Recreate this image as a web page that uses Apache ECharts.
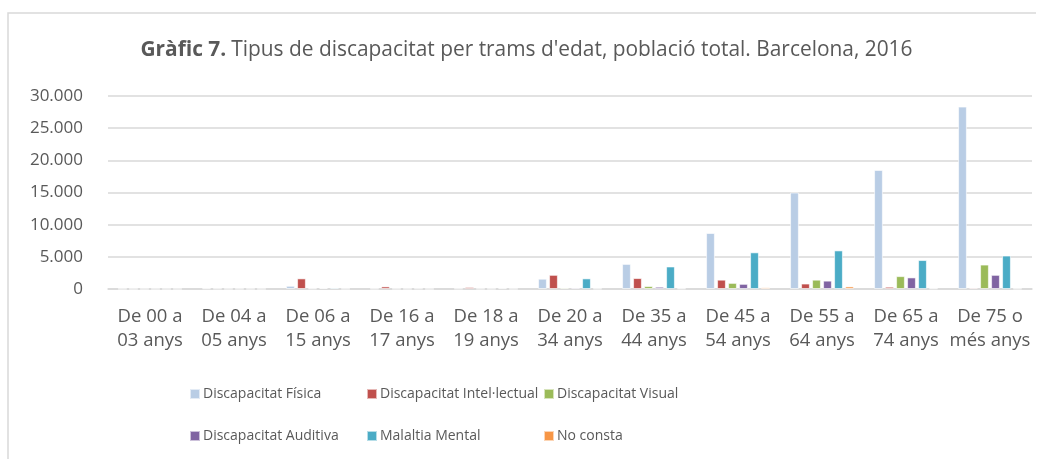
<!DOCTYPE html>
<html><head><meta charset="utf-8">
<script src="https://cdn.jsdelivr.net/npm/echarts@6/dist/echarts.min.js"></script>
<style>html,body{margin:0;padding:0;background:#fff}#c{width:1053px;height:459px}</style>
</head><body><div id="c"></div>
<script>
const categories = ["De 00 a\n03 anys","De 04 a\n05 anys","De 06 a\n15 anys","De 16 a\n17 anys","De 18 a\n19 anys","De 20 a\n34 anys","De 35 a\n44 anys","De 45 a\n54 anys","De 55 a\n64 anys","De 65 a\n74 anys","De 75 o\nmés anys"];
const seriesNames = ["Discapacitat Física","Discapacitat Intel·lectual","Discapacitat Visual","Discapacitat Auditiva","Malaltia Mental","No consta"];
const fisica   = [20, 100, 500, 50, 60, 1600, 3900, 8700, 15000, 18500, 28350];
const intel    = [10, 60, 1650, 400, 300, 2200, 1700, 1450, 850, 350, 200];
const visual   = [5, 20, 80, 30, 40, 200, 450, 950, 1450, 2000, 3800];
const auditiva = [10, 30, 150, 20, 30, 200, 350, 800, 1300, 1800, 2200];
const mental   = [5, 20, 200, 60, 120, 1650, 3500, 5700, 6000, 4500, 5200];
const noConsta = [5, 10, 30, 10, 20, 50, 80, 250, 400, 100, 50];
const colors = ["#B9CDE5","#C0504D","#9BBB59","#8064A2","#4BACC6","#F79646"];
const values = [fisica, intel, visual, auditiva, mental, noConsta];

const FONT = "'Open Sans', sans-serif";
const TXT = "#595959";
const legendPos = [[184,382],[361,382],[538,382],[184,424],[361,424],[538,424]];

const chart = echarts.init(document.getElementById('c'));
chart.setOption({
  animation: false,
  title: {
    text: "{b|Gràfic 7.} {n|Tipus de discapacitat per trams d'edat, població total. Barcelona, 2016}",
    left: 'center', top: 35,
    textStyle: { rich: {
      b: { fontFamily: FONT, fontSize: 20.9, fontWeight: 'bold', color: TXT },
      n: { fontFamily: FONT, fontSize: 20.9, fontWeight: 'normal', color: TXT }
    }}
  },
  graphic: [
    { type: 'polyline', shape: { points: [[8, 470],[8, 13],[1036, 13]] }, style: { stroke: '#D9D9D9', lineWidth: 1.5, fill: null } }
  ],
  legend: seriesNames.map((n, i) => ({
    data: [n], left: legendPos[i][0], top: legendPos[i][1],
    icon: 'rect', itemWidth: 10, itemHeight: 10, itemGap: 0,
    textStyle: { fontFamily: FONT, fontSize: 14, color: TXT, padding: [0,0,0,-2] }
  })),
  grid: { left: 108, right: 21, top: 96, bottom: 170 },
  xAxis: {
    type: 'category', data: categories,
    axisLine: { lineStyle: { color: '#D9D9D9', width: 1.5 } },
    axisTick: { show: false },
    axisLabel: { fontFamily: FONT, fontSize: 18.5, color: TXT, lineHeight: 24, margin: 16, interval: 0 }
  },
  yAxis: {
    type: 'value', min: 0, max: 30000, interval: 5000,
    axisLine: { show: false }, axisTick: { show: false },
    splitLine: { lineStyle: { color: '#D9D9D9', width: 1.5 } },
    axisLabel: { fontFamily: FONT, fontSize: 17, color: TXT, margin: 25,
      formatter: v => v === 0 ? '0' : String(v).replace(/\B(?=(\d{3})+(?!\d))/g, '.') }
  },
  series: seriesNames.map((n, i) => ({
    name: n, type: 'bar', data: values[i],
    barGap: '25%', barCategoryGap: '24%',
    itemStyle: { color: colors[i], borderColor: 'rgba(255,255,255,0.6)', borderWidth: 1 }
  }))
});
</script></body></html>
